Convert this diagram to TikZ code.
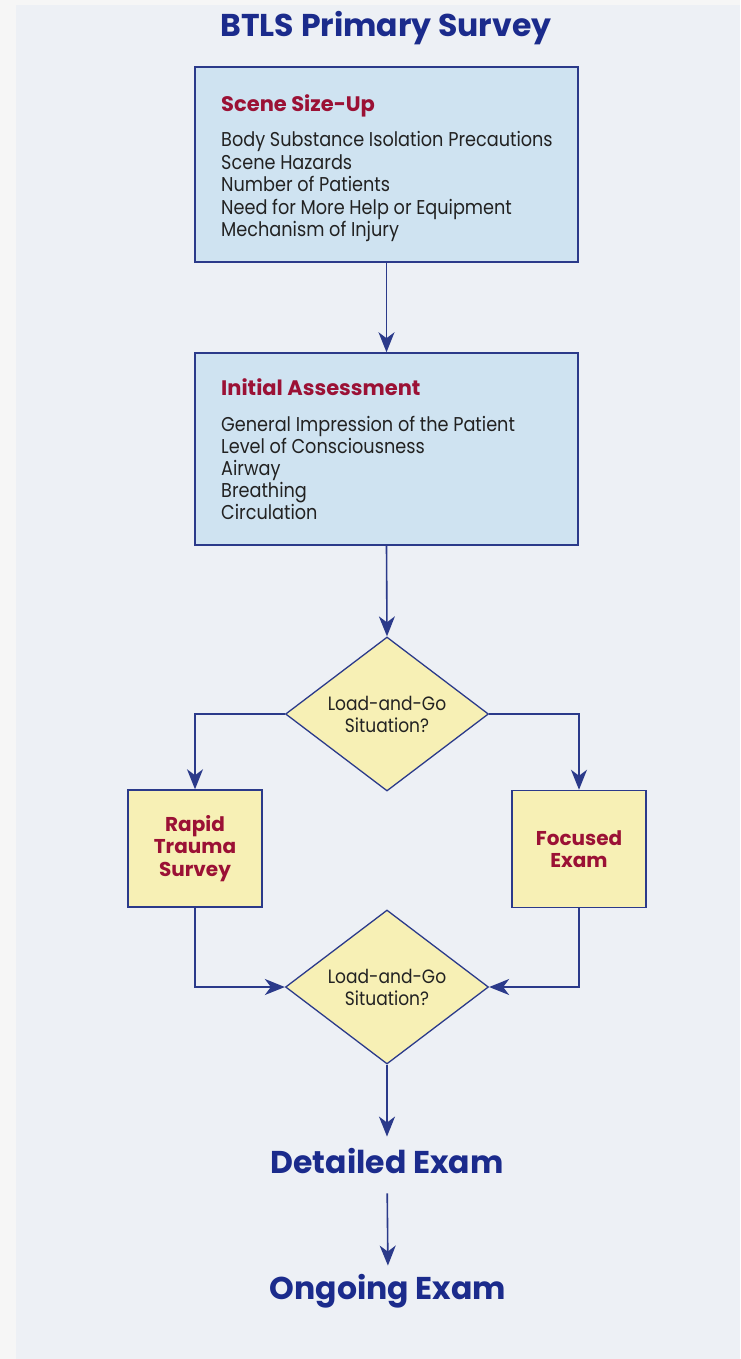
\documentclass[tikz,border=0pt]{standalone}
\usepackage{fontspec}
\setmainfont{Poppins}
\newfontfamily\bodyfont{Poppins}[FakeStretch=0.884]
\usetikzlibrary{shapes.geometric,arrows.meta}
\definecolor{pagebg}{HTML}{EDF0F5}
\definecolor{stripbg}{HTML}{F6F6F6}
\definecolor{navy}{HTML}{1B2B8C}
\definecolor{boxline}{HTML}{2B3A8A}
\definecolor{bluefill}{HTML}{CFE3F1}
\definecolor{yelfill}{HTML}{F7F0B5}
\definecolor{redtxt}{HTML}{9B1135}
\definecolor{bodytxt}{HTML}{222222}
\begin{document}
\begin{tikzpicture}[x=1pt,y=-1pt,
  bluebox/.style={draw=boxline, line width=1.5pt, fill=bluefill, minimum width=383pt, inner sep=0pt},
  yelbox/.style={draw=boxline, line width=1.5pt, fill=yelfill, minimum width=134pt, minimum height=117pt, inner sep=0pt,
     align=center, text=redtxt, font=\fontsize{20}{22.5}\selectfont\bfseries},
  decision/.style={diamond, aspect=1.3, draw=boxline, line width=1.3pt, fill=yelfill, minimum width=203pt, minimum height=154pt,
     inner sep=0pt, align=center, text=bodytxt, font=\bodyfont\fontsize{19.3}{22}\selectfont},
  boxtitle/.style={anchor=base west, inner sep=0pt, text=redtxt, font=\fontsize{21}{24}\selectfont\bfseries},
  bodyline/.style={anchor=base west, inner sep=0pt, text=bodytxt, font=\bodyfont\fontsize{20}{22}\selectfont},
  bigtitle/.style={anchor=base, inner sep=0pt, text=navy, font=\fontsize{31.5}{34}\selectfont\bfseries},
  conn/.style={draw=boxline, line width=1.6pt, -{Stealth[length=20pt,width=16pt,inset=6pt]}}
]
\useasboundingbox (0,0) rectangle (740,1359);
\fill[pagebg] (0,0) rectangle (740,1359);
\fill[stripbg] (0,0) rectangle (16,1359);
\fill[stripbg] (0,0) rectangle (740,5);

\node[bigtitle] (title) at (386,37) {BTLS Primary Survey};

\node[bluebox, minimum height=195pt] (scene) at (386.5,164.5) {};
\node[boxtitle] (scenetitle) at (221,112) {Scene Size-Up};
\foreach \t [count=\i] in {Body Substance Isolation Precautions, Scene Hazards, Number of Patients, Need for More Help or Equipment, Mechanism of Injury}
  \node[bodyline] (scene\i) at (221,{147+22.4*(\i-1)}) {\t};

\node[bluebox, minimum height=192pt] (initial) at (386.5,449) {};
\node[boxtitle] (initialtitle) at (221,395) {Initial Assessment};
\foreach \t [count=\i] in {General Impression of the Patient, Level of Consciousness, Airway, Breathing, Circulation}
  \node[bodyline] (initial\i) at (221,{431.5+22.1*(\i-1)}) {\t};

\node[decision] (d1) at (387,714) {Load-and-Go\\Situation?};
\node[yelbox] (rapid) at (195,848.5) {Rapid\\Trauma\\Survey};
\node[yelbox] (focused) at (579,849) {Focused\\Exam};
\node[decision] (d2) at (387,987) {Load-and-Go\\Situation?};

\node[bigtitle] (detailed) at (387,1173) {Detailed Exam};
\node[bigtitle] (ongoing) at (388,1299) {Ongoing Exam};

\draw[conn] (scene.south) -- (initial.north);
\draw[conn] (initial.south) -- (d1.north);
\draw[conn] (d1.west) -| (rapid.north);
\draw[conn] (d1.east) -| (focused.north);
\draw[conn] (rapid.south) |- (d2.west);
\draw[conn] (focused.south) |- (d2.east);
\draw[conn, shorten >=11pt] (d2.south) -- (detailed.north);
\draw[conn, shorten <=20pt, shorten >=8pt] (detailed.south) -- (ongoing.north);
\end{tikzpicture}
\end{document}
